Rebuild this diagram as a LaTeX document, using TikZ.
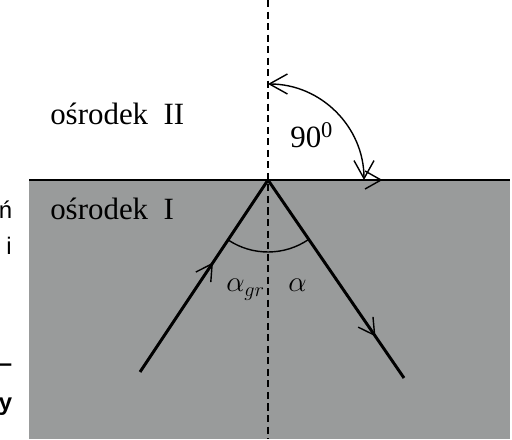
\documentclass[tikz,border=0pt]{standalone}
\usepackage{fontspec}
\setmainfont{Liberation Serif}
\newfontfamily\fragsans{Liberation Sans}
\usetikzlibrary{arrows.meta,decorations.markings}
\definecolor{mediumgray}{HTML}{999B9B}

\begin{document}
\begin{tikzpicture}[every node/.style={font=\fontsize{22}{26}\selectfont,inner sep=0pt},
  ray/.style={line width=2.1pt},
  midarrow/.style={postaction={decorate,decoration={markings,
    mark=at position #1 with {\arrow{Straight Barb[length=4mm,width=4.5mm,line width=1pt]}}}}},
  normal/.style={dashed,line width=1.4pt,dash pattern=on 5pt off 3.2pt},
  anglearc/.style={line width=1pt}]
  \useasboundingbox (0,0) rectangle (12.8,10.975);

  % medium I
  \fill[mediumgray] (0.725,0) rectangle (12.75,6.475);
  \draw[line width=0.8pt] (0.725,6.475) -- (12.75,6.475);

  % cut off text at the left edge
  \node[font=\fragsans\fontsize{17}{20}\selectfont, anchor=base east] (fragn) at (0.31,5.5) {ń};
  \node[font=\fragsans\fontsize{17}{20}\selectfont, anchor=base east] (fragi) at (0.3,4.6) {i};
  \node[font=\fragsans\bfseries\fontsize{17}{20}\selectfont, anchor=east] (fragdash) at (0.31,1.78) {–};
  \node[font=\fragsans\bfseries\fontsize{17}{20}\selectfont, anchor=base east] (fragy) at (0.31,0.72) {y};

  \node[anchor=base west] (medtwo) at (1.25,7.85) {ośrodek\ \ II};
  \node[anchor=base west] (medone) at (1.25,5.475) {ośrodek\ \ I};

  \coordinate (O) at (6.7,6.475);
  \coordinate (A) at (3.5,1.675);
  \coordinate (B) at (10.1,1.525);
  \coordinate (C) at (11.55,6.475);
  \coordinate (ntop) at (6.7,10.975);
  \coordinate (nbot) at (6.7,0);

  \draw[normal] (ntop) -- (nbot);

  \draw[ray,midarrow=0.57] (A) -- (O);
  \draw[ray,midarrow=0.79] (O) -- (B);
  \draw[ray,midarrow=0.59] (O) -- (C);

  % angles
  \draw[anglearc,{Straight Barb[length=4.5mm,width=5mm]}-{Straight Barb[length=4.5mm,width=5mm]}]
    ([shift={(90:2.4)}]O) arc[start angle=90,end angle=0,radius=2.4];
  \node[anchor=base west] (right) at (7.25,7.275) {90\textsuperscript{\fontsize{16}{18}\selectfont 0}};

  \draw[anglearc] ([shift={(236.3:1.8)}]O) arc[start angle=236.3,end angle=304.5,radius=1.8];
  \node[anchor=base west] (agr) at (5.65,3.675) {$\alpha_{gr}$};
  \node[anchor=base west] (a) at (7.2,3.675) {$\alpha$};
\end{tikzpicture}
\end{document}
